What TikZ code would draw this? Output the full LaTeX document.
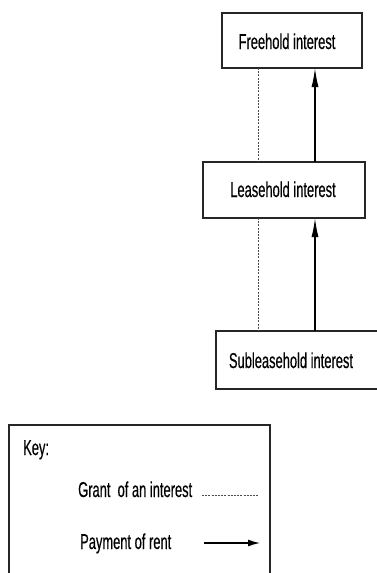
\documentclass[tikz,border=0pt]{standalone}
\usepackage{fontspec}
\setmainfont{Liberation Sans}[FakeStretch=0.6,FakeBold=0.4]
\usetikzlibrary{arrows.meta}
\begin{document}
\begin{tikzpicture}[x=1pt,y=-1pt,
  box/.style={draw=black!85,line width=1.2pt},
  lbl/.style={inner sep=0pt,anchor=base,font=\fontsize{21.5pt}{23pt}\selectfont},
  klbl/.style={inner sep=0pt,anchor=base west,font=\fontsize{21.5pt}{23pt}\selectfont},
  grant/.style={draw=black!70,line width=0.6pt,dash pattern=on 2pt off 1.2pt},
  rent/.style={draw=black,line width=1.3pt,-{Latex[length=19pt,width=7pt]}},
  keyrent/.style={draw=black,line width=1.3pt,-{Latex[length=12pt,width=7pt]}}]
\useasboundingbox (0,0) rectangle (376,573);
% boxes
\draw[box] (222,13) rectangle (362,68);
\draw[box] (203,162) rectangle (365,218);
\draw[box] (380,331) -- (216,331) -- (216,389) -- (380,389);
% texts
\node[lbl] (fh) at (287,49) {Freehold interest};
\node[lbl] (lh) at (283,197) {Leasehold interest};
\node[lbl] (sl) at (291,368) {Subleasehold interest};
% coordinates for connectors
\coordinate (fhD) at (258,68);
\coordinate (lhDt) at (258,162);
\coordinate (lhDb) at (258,218);
\coordinate (slD) at (258,331);
\coordinate (fhA) at (315,68);
\coordinate (lhAt) at (315,162);
\coordinate (lhAb) at (315,218);
\coordinate (slA) at (315,331);
\draw[grant] (fhD) -- (lhDt);
\draw[grant] (lhDb) -- (slD);
\draw[rent] (lhAt) -- (fhA);
\draw[rent] (slA) -- (lhAb);
% key
\draw[box] (9,580) -- (9,425) -- (270,425) -- (270,580);
\node[klbl] (key) at (23,455) {Key:};
\node[klbl] (g) at (78,497) {Grant\ \ of an interest};
\node[klbl] (p) at (80,549) {Payment of rent};
\coordinate (g1) at (202,495);
\coordinate (g2) at (258,495);
\coordinate (p1) at (204,543);
\coordinate (p2) at (260,543);
\draw[grant] (g1) -- (g2);
\draw[keyrent] (p1) -- (p2);
\end{tikzpicture}
\end{document}
